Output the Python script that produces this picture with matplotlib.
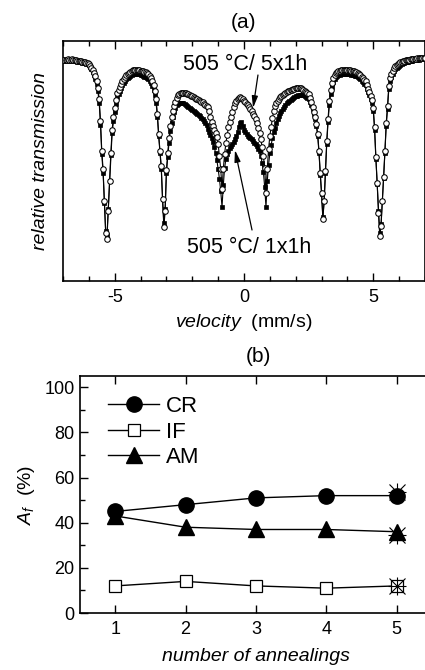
import numpy as np
import matplotlib
matplotlib.use("Agg")
import matplotlib.pyplot as plt
from matplotlib.ticker import MultipleLocator

plt.rcParams['font.family'] = ['Liberation Sans', 'DejaVu Sans']
plt.rcParams['mathtext.fontset'] = 'custom'
plt.rcParams['mathtext.rm'] = 'Liberation Sans'
plt.rcParams['mathtext.it'] = 'Liberation Sans:italic'
plt.rcParams['axes.unicode_minus'] = False

# ---------------- (a) Moessbauer spectra ----------------
# velocity channels (mm/s), 0.05 mm/s step from -7 to 7
velocity = np.linspace(-7.0, 7.0, 281)

# relative transmission (arbitrary units), 505 C / 5x1h (open circles)
trans_5x1h = [
    221, 221, 221, 221, 222, 221, 221, 222, 221, 221,
    221, 220, 220, 220, 220, 219, 219, 219, 218, 218,
    217, 215, 213, 211, 208, 205, 200, 193, 182, 160,
    130, 112, 80, 48, 42, 70, 100, 128, 151, 164,
    173, 181, 188, 191, 194, 197, 200, 202, 204, 206,
    207, 208, 209, 210, 211, 211, 211, 211, 211, 211,
    210, 210, 210, 209, 209, 208, 207, 205, 203, 200,
    196, 190, 182, 167, 147, 130, 115, 82, 54, 70,
    111, 128, 143, 155, 164, 170, 175, 179, 183, 186,
    187, 188, 188, 188, 188, 188, 187, 187, 186, 185,
    185, 184, 183, 182, 182, 181, 180, 179, 179, 177,
    176, 175, 174, 170, 164, 159, 155, 151, 148, 144,
    137, 125, 112, 92, 112, 127, 138, 146, 154, 159,
    164, 169, 174, 178, 180, 182, 183, 184, 183, 182,
    180, 179, 177, 176, 174, 172, 170, 167, 165, 162,
    158, 153, 148, 142, 134, 125, 113, 88, 112, 132,
    145, 154, 163, 170, 175, 178, 180, 182, 184, 185,
    186, 187, 188, 189, 190, 190, 191, 191, 192, 192,
    193, 193, 193, 193, 193, 192, 191, 190, 189, 188,
    187, 183, 179, 174, 169, 164, 157, 147, 130, 108,
    88, 62, 80, 110, 140, 162, 180, 191, 198, 203,
    206, 208, 209, 210, 210, 211, 211, 211, 211, 211,
    211, 211, 211, 210, 210, 210, 209, 209, 208, 207,
    206, 204, 203, 201, 200, 196, 192, 189, 185, 181,
    173, 154, 124, 98, 68, 45, 55, 80, 104, 130,
    158, 175, 195, 203, 207, 210, 213, 215, 216, 217,
    218, 219, 219, 220, 220, 221, 221, 221, 221, 222,
    222, 222, 222, 222, 223, 223, 223, 223, 223, 223,
    223,
]

# relative transmission (arbitrary units), 505 C / 1x1h (filled squares)
trans_1x1h = [
    220, 220, 221, 220, 221, 220, 220, 221, 220, 220,
    220, 219, 219, 219, 219, 218, 218, 218, 217, 217,
    216, 214, 212, 209, 206, 202, 197, 190, 178, 156,
    127, 108, 78, 50, 46, 72, 100, 126, 148, 160,
    169, 177, 184, 187, 190, 193, 196, 198, 200, 202,
    203, 204, 205, 206, 207, 207, 207, 207, 207, 207,
    206, 206, 205, 204, 204, 203, 202, 200, 198, 195,
    191, 186, 178, 164, 145, 128, 112, 82, 58, 72,
    108, 124, 138, 150, 158, 164, 169, 173, 176, 177,
    178, 178, 178, 178, 177, 176, 175, 174, 173, 172,
    171, 170, 169, 168, 167, 166, 165, 163, 162, 160,
    158, 156, 152, 149, 146, 143, 139, 134, 128, 121,
    112, 102, 90, 74, 96, 113, 122, 127, 130, 133,
    135, 137, 139, 142, 145, 149, 154, 158, 159, 155,
    151, 149, 147, 145, 144, 143, 142, 140, 138, 137,
    135, 132, 130, 125, 118, 109, 94, 74, 100, 116,
    128, 136, 143, 149, 153, 158, 162, 165, 168, 170,
    172, 174, 176, 178, 179, 180, 181, 182, 183, 184,
    185, 185, 186, 186, 186, 186, 186, 185, 184, 183,
    182, 179, 176, 172, 167, 162, 155, 145, 128, 106,
    87, 64, 80, 108, 137, 159, 176, 187, 194, 199,
    202, 204, 205, 206, 206, 207, 207, 207, 207, 207,
    207, 207, 207, 206, 206, 206, 205, 205, 204, 203,
    202, 200, 199, 197, 196, 192, 189, 186, 182, 178,
    170, 151, 122, 97, 70, 48, 57, 80, 103, 128,
    155, 172, 192, 200, 204, 207, 210, 212, 213, 214,
    215, 216, 217, 218, 218, 219, 219, 219, 220, 220,
    220, 221, 221, 221, 221, 221, 222, 222, 222, 222,
    222,
]

label_5x = "505 \u00b0C/ 5x1h"
label_1x = "505 \u00b0C/ 1x1h"

# ---------------- (b) area fractions ----------------
annealings = [1, 2, 3, 4, 5]
cr_vals = [45, 48, 51, 52, 52]
if_vals = [12, 14, 12, 11, 12]
am_vals = [43, 38, 37, 37, 36]
# additional (star) points at 5 annealings
star_x = [5, 5, 5]
star_vals = [53.5, 12, 34.5]

W, H = 425, 670
fig = plt.figure(figsize=(W / 100, H / 100), dpi=100)

# ---- panel (a)
axa = fig.add_axes([63 / W, 1 - 281 / H, (425 - 63) / W, (281 - 41) / H])
axa.plot(velocity, trans_1x1h, '-', color='black', lw=0.8,
         marker='s', ms=3.2, mfc='black', mec='black', mew=0.5, zorder=2)
axa.plot(velocity, trans_5x1h, '-', color='black', lw=0.8,
         marker='o', ms=4.0, mfc='white', mec='black', mew=0.75, zorder=3)
axa.set_xlim(-7, 7)
axa.set_ylim(0, 240)
axa.xaxis.set_major_locator(MultipleLocator(5))
axa.xaxis.set_minor_locator(MultipleLocator(1))
axa.tick_params(axis='x', which='both', direction='in', top=True, bottom=True,
                labelsize=13, pad=6)
axa.tick_params(axis='x', which='major', length=6, width=1.0)
axa.tick_params(axis='x', which='minor', length=3.5, width=1.0)
axa.set_yticks([])
for sp in axa.spines.values():
    sp.set_linewidth(1.2)
axa.set_xlabel(r'$\mathit{velocity}$  (mm/s)', fontsize=14, labelpad=4)
axa.set_ylabel('relative transmission', fontsize=14, fontstyle='italic', labelpad=10)

axa.text(0.04, 216, label_5x, ha='center', va='center', fontsize=15.5, zorder=5)
axa.text(0.19, 33, label_1x, ha='center', va='center', fontsize=15.5, zorder=5)
arrow_kw = dict(arrowstyle='-|>,head_length=0.7,head_width=0.18', lw=0.9,
                color='black', shrinkA=0, shrinkB=0)
axa.annotate('', xy=(0.35, 173), xytext=(0.54, 206), arrowprops=arrow_kw, zorder=6)
axa.annotate('', xy=(-0.35, 131), xytext=(0.31, 51), arrowprops=arrow_kw, zorder=6)
fig.text(243 / W, 1 - 22 / H, '(a)', ha='center', va='center', fontsize=15)

# ---- panel (b)
axb = fig.add_axes([80 / W, 1 - 613 / H, (432 - 80) / W, (613 - 376) / H])
axb.plot(annealings, cr_vals, '-', color='black', lw=1.0, marker='o', ms=11,
         mfc='black', mec='black', label='CR', zorder=3)
axb.plot(annealings, if_vals, '-', color='black', lw=1.0, marker='s', ms=9,
         mfc='white', mec='black', mew=0.9, label='IF', zorder=3)
axb.plot(annealings, am_vals, '-', color='black', lw=1.0, marker='^', ms=11.5,
         mfc='black', mec='black', label='AM', zorder=3)
axb.plot(star_x, star_vals, 'x', color='black', ms=12, mew=0.8, zorder=4)
axb.plot(star_x, star_vals, '+', color='black', ms=13, mew=0.8, zorder=4)
axb.set_xlim(0.5, 5.5)
axb.set_ylim(0, 105)
axb.set_xticks(annealings)
axb.yaxis.set_major_locator(MultipleLocator(20))
axb.yaxis.set_minor_locator(MultipleLocator(10))
axb.tick_params(axis='x', which='major', direction='in', top=True, length=6,
                width=1.0, labelsize=13, pad=6)
axb.tick_params(axis='y', which='major', direction='in', length=6, width=1.0,
                labelsize=13, pad=4)
axb.tick_params(axis='y', which='minor', direction='in', length=3.5, width=1.0)
for sp in axb.spines.values():
    sp.set_linewidth(1.2)
axb.set_xlabel('number of annealings', fontsize=14, fontstyle='italic', labelpad=7)
axb.set_ylabel(r'$A_f$  (%)', fontsize=14, labelpad=5)
leg = axb.legend(loc='upper left', frameon=False, fontsize=16, handlelength=2.3,
                 handletextpad=0.3, labelspacing=0.2, borderaxespad=0.4,
                 bbox_to_anchor=(0.03, 0.99))
fig.text(258 / W, 1 - 357 / H, '(b)', ha='center', va='center', fontsize=15)

fig.savefig('out.png', dpi=100)
